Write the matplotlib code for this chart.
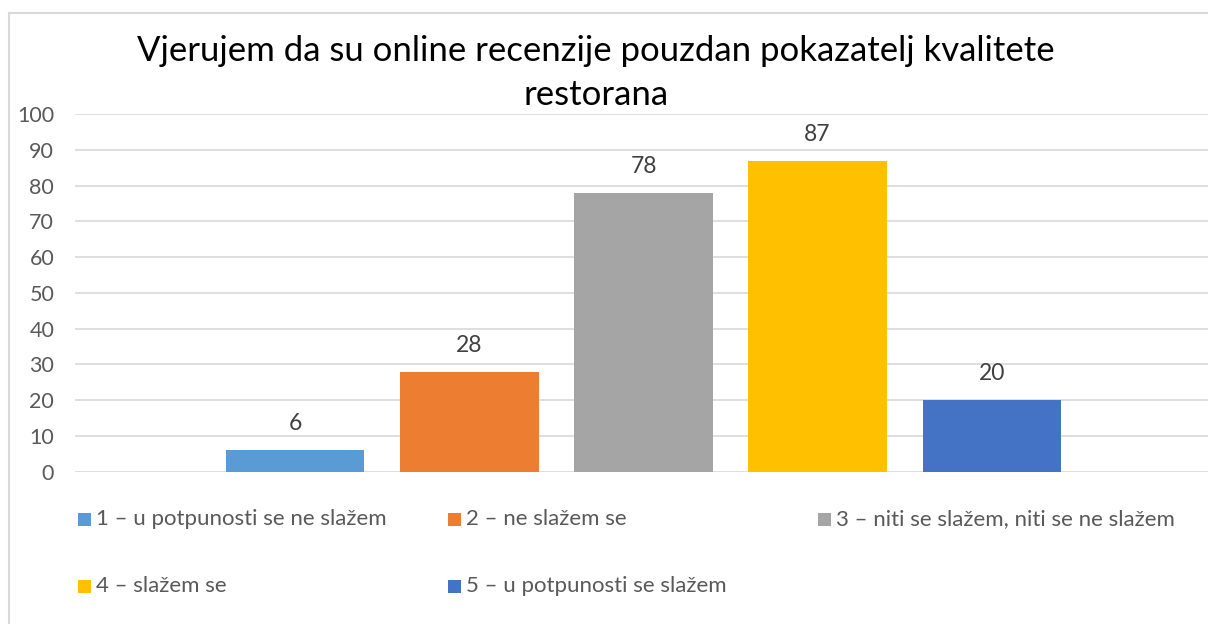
import matplotlib
matplotlib.use("Agg")
import matplotlib.pyplot as plt
from matplotlib.patches import Rectangle
from matplotlib.lines import Line2D

# ---- data ----
categories = [
    "1 – u potpunosti se ne slažem",
    "2 – ne slažem se",
    "3 – niti se slažem, niti se ne slažem",
    "4 – slažem se",
    "5 – u potpunosti se slažem",
]
values = [6, 28, 78, 87, 20]
colors = ["#5B9BD5", "#ED7D31", "#A5A5A5", "#FFC000", "#4472C4"]
yticks = [0, 10, 20, 30, 40, 50, 60, 70, 80, 90, 100]
title = "Vjerujem da su online recenzije pouzdan pokazatelj kvalitete\nrestorana"

FONT = ["Lato", "DejaVu Sans"]
plt.rcParams["font.family"] = FONT

W, H = 1208, 624
fig = plt.figure(figsize=(W / 100, H / 100), dpi=100)

# chart frame: only left and top edges are visible in the reference
fx, fy = 8.5 / W, (H - 12.5) / H
fig.add_artist(Line2D([fx, fx], [-0.05, fy], transform=fig.transFigure,
                      color="#D9D9D9", linewidth=1.5))
fig.add_artist(Line2D([fx, 1.05], [fy, fy], transform=fig.transFigure,
                      color="#D9D9D9", linewidth=1.5))

# plot area in pixels
px_left, px_right = 75, 1212
px_top, px_bottom = 114, 471.7
ax = fig.add_axes([px_left / W, (H - px_bottom) / H,
                   (px_right - px_left) / W, (px_bottom - px_top) / H])

bar_w = 1.0
step = 1.26          # bar width + series gap (overlap -26%)
gap = 2.19           # Excel gap width
xs = [i * step for i in range(len(values))]
ax.bar(xs, values, width=bar_w, color=colors, zorder=3)
ax.set_xlim(xs[0] - bar_w / 2 - gap / 2, xs[-1] + bar_w / 2 + gap / 2)
ax.set_ylim(0, 100)
ax.set_yticks(yticks)
ax.set_xticks([])
ax.grid(axis="y", color="#D9D9D9", linewidth=1.2, zorder=0)
for s in ax.spines.values():
    s.set_visible(False)
ax.tick_params(axis="y", length=0, pad=15, labelsize=15.5, labelcolor="#595959")

for x, v in zip(xs, values):
    ax.annotate(str(v), (x, v), xytext=(0, 19), textcoords="offset points",
                ha="center", va="center", fontsize=16.5, color="#404040")

# title
fig.text(596 / W, (H - 73) / H, title, ha="center", va="center",
         fontsize=25, color="#000000", linespacing=1.45)

# legend
leg_pos = [(78, 519), (448, 519), (818, 519), (78, 586), (448, 586)]
msz = 13
for (lx, ly), lab, c in zip(leg_pos, categories, colors):
    fig.add_artist(Rectangle((lx / W, (H - ly - msz / 2) / H), msz / W, msz / H,
                             transform=fig.transFigure, facecolor=c,
                             edgecolor="none"))
    fig.text((lx + msz + 5) / W, (H - ly) / H, lab, ha="left", va="center",
             fontsize=16, color="#595959")

fig.savefig("out.png", dpi=100)
